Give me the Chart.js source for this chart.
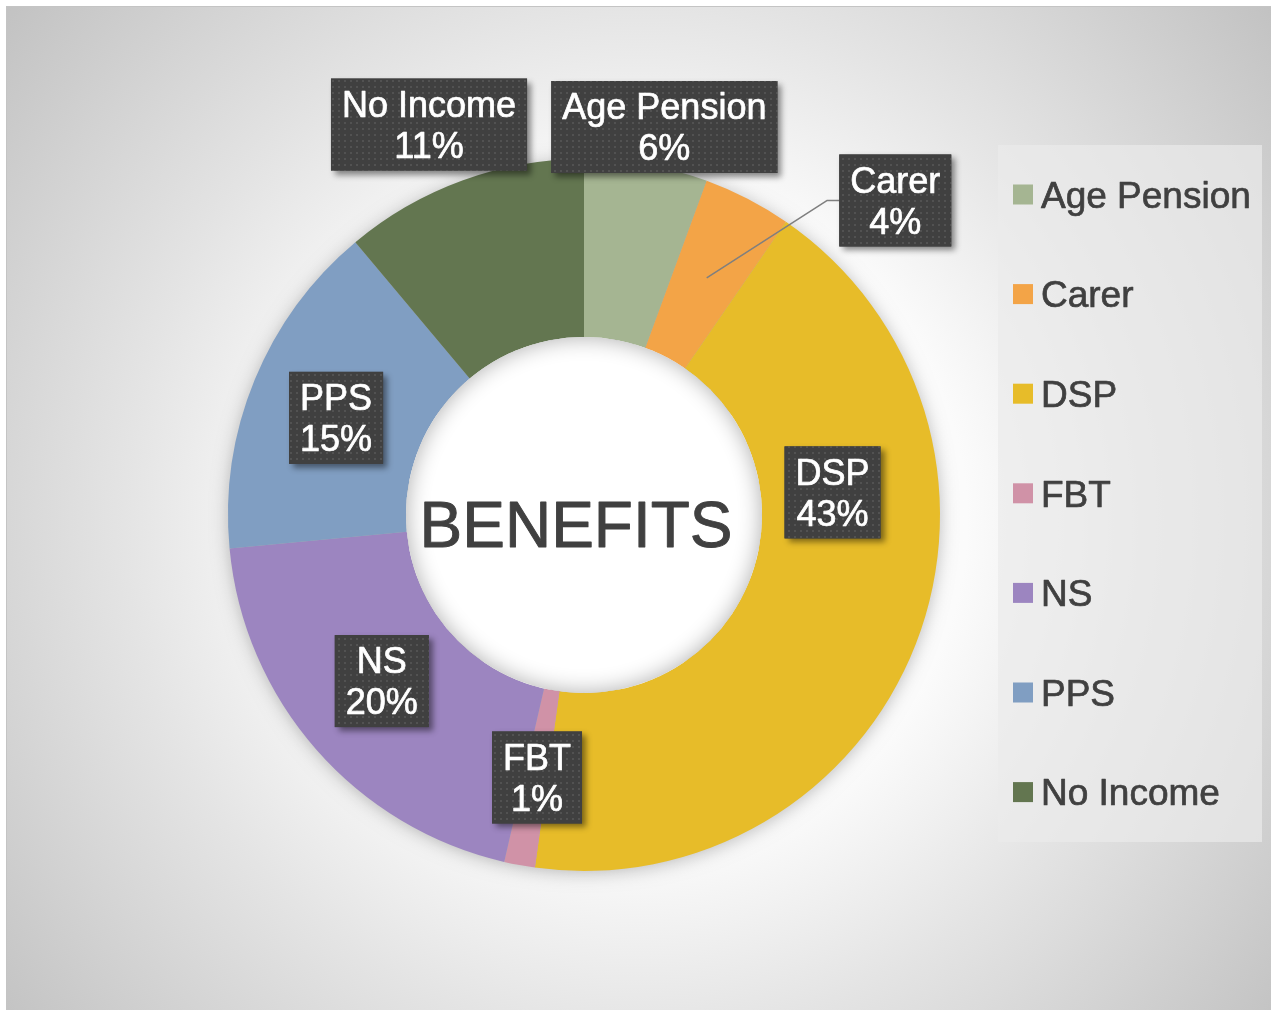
<!DOCTYPE html>
<html>
<head>
<meta charset="utf-8">
<script src="https://cdn.jsdelivr.net/npm/chart.js@4.4.0/dist/chart.umd.min.js"></script>
<style>
  html, body { margin: 0; padding: 0; background: #ffffff; }
  #wrap { width: 1271px; height: 1010px; position: relative; }
  canvas { display: block; }
</style>
</head>
<body>
<div id="wrap"><canvas id="c" width="1271" height="1010"></canvas></div>
<script>
// ---- data ----
const categories = ['Age Pension', 'Carer', 'DSP', 'FBT', 'NS', 'PPS', 'No Income'];
const values = [5.6, 4.0, 42.6, 1.4, 19.9, 15.4, 11.1];
const sliceColors = ['#A5B592', '#F3A447', '#E7BC29', '#D092A7', '#9C85C0', '#809EC2', '#637650'];
const centerTitle = 'BENEFITS';

// label placement: [angle in degrees clockwise from top, distance as a fraction of the outer radius]
const labelPlacement = [
  [11.7, 1.113],
  [44.7, 1.243],
  [84.8, 0.701],
  [190.15, 0.749],
  [230.6, 0.735],
  [291.4, 0.748],
  [338.35, 1.180]
];
const leaderLineFor = ['Carer'];

const FONT = "'Liberation Sans', Arial, Helvetica, sans-serif";
const TEXT_DARK = '#404040';

function makeDotPattern(ctx) {
  const p = document.createElement('canvas');
  p.width = 6; p.height = 6;
  const g = p.getContext('2d');
  g.fillStyle = '#404040';
  g.fillRect(0, 0, 6, 6);
  g.fillStyle = '#525252';
  g.fillRect(2, 2, 2, 2);
  return ctx.createPattern(p, 'repeat');
}

function boldText(ctx, text, x, y, color, sw) {
  ctx.fillStyle = color;
  ctx.strokeStyle = color;
  ctx.lineWidth = sw;
  ctx.lineJoin = 'round';
  ctx.fillText(text, x, y);
  ctx.strokeText(text, x, y);
}

const backgroundPlugin = {
  id: 'bgPlugin',
  beforeDraw(chart) {
    const ctx = chart.ctx;
    const W = chart.width, H = chart.height;
    ctx.save();
    ctx.fillStyle = '#ffffff';
    ctx.fillRect(0, 0, W, H);
    const x0 = 7, y0 = 7, x1 = W, y1 = H;
    const g = ctx.createRadialGradient(640, 520, 0, 640, 520, 860);
    g.addColorStop(0, '#ffffff');
    g.addColorStop(0.38, '#fbfbfb');
    g.addColorStop(0.6, '#e4e4e4');
    g.addColorStop(1, '#bdbdbd');
    ctx.fillStyle = g;
    ctx.fillRect(x0, y0, x1 - x0, y1 - y0);
    ctx.strokeStyle = '#c4c4c4';
    ctx.lineWidth = 1;
    ctx.strokeRect(x0 - 0.5, y0 - 0.5, x1 - x0 + 1, y1 - y0 + 1);

    // legend panel
    ctx.fillStyle = 'rgba(235,235,235,0.69)';
    ctx.fillRect(998, 145, 264, 697);

    // ring shadow
    const meta = chart.getDatasetMeta(0);
    const arc0 = meta.data[0];
    if (arc0) {
      const { x, y, outerRadius } = arc0.getProps(['x', 'y', 'outerRadius'], true);
      ctx.save();
      ctx.shadowColor = 'rgba(0,0,0,0.28)';
      ctx.shadowBlur = 18;
      ctx.shadowOffsetX = 0;
      ctx.shadowOffsetY = 2;
      ctx.beginPath();
      ctx.arc(x, y, outerRadius - 1, 0, Math.PI * 2);
      ctx.fillStyle = '#b0b0b0';
      ctx.fill();
      ctx.restore();
    }
    ctx.restore();
  }
};

const overlayPlugin = {
  id: 'overlayPlugin',
  afterDatasetsDraw(chart) {
    const ctx = chart.ctx;
    const meta = chart.getDatasetMeta(0);
    const arcs = meta.data;
    if (!arcs.length) return;
    const { x: cx, y: cy, outerRadius: R, innerRadius: r } = arcs[0].getProps(['x', 'y', 'outerRadius', 'innerRadius'], true);

    // hole with inner shadow
    ctx.save();
    ctx.beginPath();
    ctx.arc(cx, cy, r, 0, Math.PI * 2);
    ctx.clip();
    ctx.fillStyle = '#ffffff';
    ctx.fillRect(cx - r, cy - r, 2 * r, 2 * r);
    ctx.shadowColor = 'rgba(0,0,0,0.32)';
    ctx.shadowBlur = 22;
    ctx.beginPath();
    ctx.arc(cx, cy, r + 30, 0, Math.PI * 2);
    ctx.lineWidth = 60;
    ctx.strokeStyle = '#ffffff';
    ctx.stroke();
    ctx.restore();

    // center title
    ctx.save();
    ctx.font = '64px ' + FONT;
    ctx.textAlign = 'center';
    ctx.textBaseline = 'alphabetic';
    boldText(ctx, centerTitle, cx - 8, cy + 9 + 0.358 * 64, TEXT_DARK, 0.9);
    ctx.restore();

    // data labels
    const total = values.reduce((a, b) => a + b, 0);
    const pattern = makeDotPattern(ctx);
    const fontPx = 36;
    ctx.save();
    ctx.font = fontPx + 'px ' + FONT;
    categories.forEach((cat, i) => {
      const pct = Math.round(values[i] / total * 100) + '%';
      const [angDeg, fr] = labelPlacement[i];
      const a = angDeg * Math.PI / 180;
      const bx = cx + fr * R * Math.sin(a);
      const by = cy - fr * R * Math.cos(a);
      const w = Math.max(ctx.measureText(cat).width, ctx.measureText(pct).width) + 22;
      const h = 92;
      const left = bx - w / 2, top = by - h / 2;

      if (leaderLineFor.includes(cat)) {
        const arc = arcs[i];
        const p = arc.getProps(['startAngle', 'endAngle', 'innerRadius', 'outerRadius'], true);
        const mid = (p.startAngle + p.endAngle) / 2;
        const rr = (p.innerRadius + p.outerRadius) / 2;
        const sx = cx + rr * Math.cos(mid);
        const sy = cy + rr * Math.sin(mid);
        ctx.save();
        ctx.strokeStyle = '#7f7f7f';
        ctx.lineWidth = 1.5;
        ctx.beginPath();
        ctx.moveTo(sx, sy);
        ctx.lineTo(left - 12, by);
        ctx.lineTo(left, by);
        ctx.stroke();
        ctx.restore();
      }

      ctx.save();
      ctx.shadowColor = 'rgba(0,0,0,0.45)';
      ctx.shadowBlur = 6;
      ctx.shadowOffsetX = 4;
      ctx.shadowOffsetY = 4;
      ctx.fillStyle = '#404040';
      ctx.fillRect(left, top, w, h);
      ctx.restore();
      ctx.fillStyle = pattern;
      ctx.fillRect(left, top, w, h);

      ctx.textAlign = 'center';
      ctx.textBaseline = 'alphabetic';
      const cap = 0.358 * fontPx;
      boldText(ctx, cat, bx, by - 20.5 + cap, '#ffffff', 0.7);
      boldText(ctx, pct, bx, by + 20.5 + cap, '#ffffff', 0.7);
    });
    ctx.restore();

    // legend
    const legendPx = 37;
    ctx.save();
    ctx.font = legendPx + 'px ' + FONT;
    ctx.textAlign = 'left';
    ctx.textBaseline = 'alphabetic';
    categories.forEach((cat, i) => {
      const yc = 194.5 + i * 99.6;
      ctx.fillStyle = chart.data.datasets[0].backgroundColor[i];
      ctx.fillRect(1013, yc - 10, 20, 20);
      boldText(ctx, cat, 1041, yc + 0.358 * legendPx, TEXT_DARK, 0.7);
    });
    ctx.restore();
  }
};

new Chart(document.getElementById('c'), {
  type: 'doughnut',
  data: {
    labels: categories,
    datasets: [{
      data: values,
      backgroundColor: sliceColors,
      borderWidth: 0,
      hoverOffset: 0,
      offset: 0
    }]
  },
  options: {
    responsive: false,
    animation: false,
    events: [],
    cutout: '50%',
    layout: { padding: { left: 228, right: 331, top: 159, bottom: 139 } },
    plugins: {
      legend: { display: false },
      tooltip: { enabled: false }
    }
  },
  plugins: [backgroundPlugin, overlayPlugin]
});
</script>
</body>
</html>
